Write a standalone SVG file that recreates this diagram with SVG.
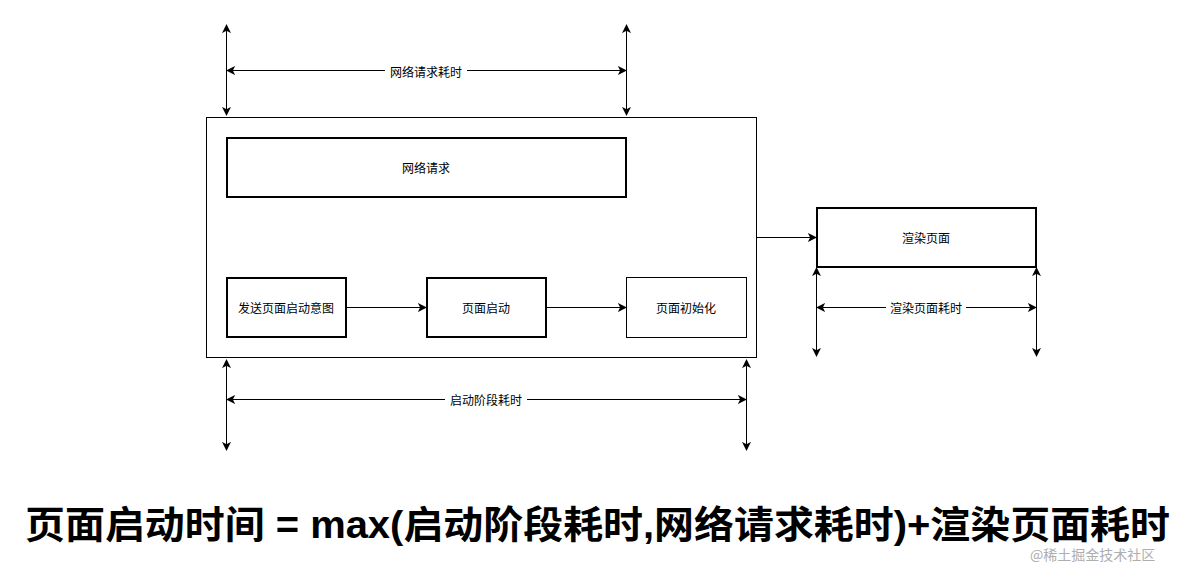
<svg xmlns="http://www.w3.org/2000/svg" width="1193" height="564" viewBox="0 0 1193 564">
<style>
.box{fill:#fff;stroke:#000;stroke-width:1}
.thick{fill:#fff;stroke:#000;stroke-width:2}
.lbl{font-family:"Noto Sans CJK SC","Liberation Sans",sans-serif;font-size:12px;fill:#000;text-anchor:middle;dominant-baseline:central}
.ln{stroke:#000;stroke-width:1;fill:none}
.title{font-family:"Liberation Sans","Noto Sans CJK SC",sans-serif;font-size:38px;font-weight:bold;fill:#000}
.wm{font-family:"Noto Sans CJK SC",sans-serif;font-size:14px;fill:#9a9a9a;opacity:0.8}
</style>
<defs>
<marker id="ah" viewBox="0 0 10 10" refX="9" refY="5" markerWidth="9" markerHeight="9" markerUnits="userSpaceOnUse" orient="auto-start-reverse">
<path d="M0,0 L10,5 L0,10 L2.5,5 Z" fill="#000"/>
</marker>
</defs>
<rect width="1193" height="564" fill="#fff"/>
<g id="container"><rect class="box" x="206.5" y="117.5" width="550" height="240"/></g>
<g id="network"><rect class="thick" x="227" y="138" width="399" height="59"/><text class="lbl" x="426" y="167">网络请求</text></g>
<g id="send"><rect class="thick" x="227" y="278" width="119" height="59"/><text class="lbl" x="286" y="307">发送页面启动意图</text></g>
<g id="launch"><rect class="thick" x="427" y="278" width="119" height="59"/><text class="lbl" x="486" y="307">页面启动</text></g>
<g id="init"><rect class="box" x="626.5" y="277.5" width="120" height="60"/><text class="lbl" x="686" y="307">页面初始化</text></g>
<g id="render"><rect class="thick" x="817" y="208" width="219" height="59"/><text class="lbl" x="926" y="237">渲染页面</text></g>
<g id="connectors">
<line class="ln" x1="347" y1="307.5" x2="426" y2="307.5" marker-end="url(#ah)"/>
<line class="ln" x1="547" y1="307.5" x2="626" y2="307.5" marker-end="url(#ah)"/>
<line class="ln" x1="757" y1="237.5" x2="816" y2="237.5" marker-end="url(#ah)"/>
</g>
<g id="dim-network">
<line class="ln" x1="226.5" y1="25" x2="226.5" y2="115" marker-start="url(#ah)" marker-end="url(#ah)"/>
<line class="ln" x1="626.5" y1="25" x2="626.5" y2="115" marker-start="url(#ah)" marker-end="url(#ah)"/>
<line class="ln" x1="227" y1="70.5" x2="385" y2="70.5" marker-start="url(#ah)"/>
<line class="ln" x1="467" y1="70.5" x2="626" y2="70.5" marker-end="url(#ah)"/>
<text class="lbl" x="426" y="71">网络请求耗时</text>
</g>
<g id="dim-startup">
<line class="ln" x1="226.5" y1="360" x2="226.5" y2="450" marker-start="url(#ah)" marker-end="url(#ah)"/>
<line class="ln" x1="746.5" y1="360" x2="746.5" y2="450" marker-start="url(#ah)" marker-end="url(#ah)"/>
<line class="ln" x1="227" y1="399.5" x2="445" y2="399.5" marker-start="url(#ah)"/>
<line class="ln" x1="527" y1="399.5" x2="746" y2="399.5" marker-end="url(#ah)"/>
<text class="lbl" x="486" y="399">启动阶段耗时</text>
</g>
<g id="dim-render">
<line class="ln" x1="816.5" y1="268" x2="816.5" y2="356" marker-start="url(#ah)" marker-end="url(#ah)"/>
<line class="ln" x1="1036.5" y1="268" x2="1036.5" y2="356" marker-start="url(#ah)" marker-end="url(#ah)"/>
<line class="ln" x1="817" y1="307.5" x2="886" y2="307.5" marker-start="url(#ah)"/>
<line class="ln" x1="966" y1="307.5" x2="1036" y2="307.5" marker-end="url(#ah)"/>
<text class="lbl" x="926" y="307">渲染页面耗时</text>
</g>
<text class="title" x="25" y="538" textLength="1145" lengthAdjust="spacingAndGlyphs">页面启动时间 = max(启动阶段耗时,网络请求耗时)+渲染页面耗时</text>
<text class="wm" x="1030" y="560">@稀土掘金技术社区</text>
</svg>
